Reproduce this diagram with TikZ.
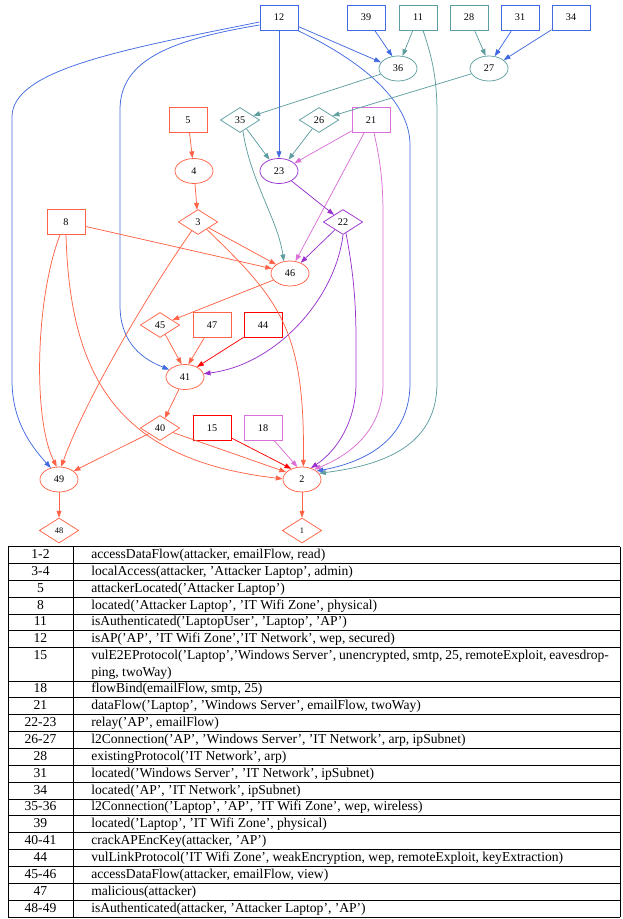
\documentclass[tikz,border=0pt]{standalone}
\usepackage{fontspec}
\setmainfont{Liberation Serif}
\usetikzlibrary{shapes.geometric,arrows.meta,calc}
\definecolor{tomatoc}{HTML}{FF6347}
\definecolor{royalc}{HTML}{4169E1}
\definecolor{cadetc}{HTML}{5F9EA0}
\definecolor{orchidc}{HTML}{DA70D6}
\definecolor{dorchidc}{HTML}{9932CC}
\definecolor{redc}{HTML}{FF0000}
\newcommand\tabrowx[4]{%
  \node[tcell,anchor=base] (#1a) at (40.5,{#2+12}) {#3};
  \node[tcell,anchor=base west] (#1b) at (91,{#2+12}) {#4};
  \draw[tline] (8,{#2+16.866}) -- (620,{#2+16.866});}
\begin{document}
\begin{tikzpicture}[x=0.736pt,y=-0.736pt,
  gfont/.style={font=\fontsize{7.5}{9}\selectfont},
  gbox/.style={draw,rectangle,minimum width=28pt,minimum height=18.4pt,inner sep=0pt,line width=0.55pt,gfont},
  gell/.style={draw,ellipse,minimum width=28pt,minimum height=18.4pt,inner sep=0pt,line width=0.55pt,gfont},
  gdia/.style={draw,diamond,minimum width=29pt,minimum height=18.4pt,inner sep=0pt,line width=0.55pt,gfont},
  sdia/.style={gdia,font=\fontsize{6.2}{7}\selectfont},
  edg/.style={line width=0.55pt,-{Triangle[length=5pt,width=3.6pt]}},
  tcell/.style={inner sep=0pt,font=\fontsize{10}{12}\selectfont},
  tline/.style={line width=0.5pt,black}]
\useasboundingbox (0,0) rectangle (623,919);
% ---- nodes ----
\node[gbox,royalc] (n12) at (279,17.5) {\color{black}12};
\node[gbox,royalc] (n39) at (366,17.5) {\color{black}39};
\node[gbox,cadetc] (n11) at (418,17.5) {\color{black}11};
\node[gbox,cadetc] (n28) at (469,17.5) {\color{black}28};
\node[gbox,royalc] (n31) at (520,17.5) {\color{black}31};
\node[gbox,royalc] (n34) at (571,17.5) {\color{black}34};
\node[gell,cadetc] (n36) at (398,68.5) {\color{black}36};
\node[gell,cadetc] (n27) at (489,68.5) {\color{black}27};
\node[gbox,tomatoc] (n5) at (188,120) {\color{black}5};
\node[gdia,cadetc] (n35) at (240,120) {\color{black}35};
\node[gdia,cadetc] (n26) at (319,120) {\color{black}26};
\node[gbox,orchidc] (n21) at (371,120) {\color{black}21};
\node[gell,tomatoc] (n4) at (194,171) {\color{black}4};
\node[gell,dorchidc] (n23) at (279,171) {\color{black}23};
\node[gbox,tomatoc] (n8) at (66,222) {\color{black}8};
\node[gdia,tomatoc] (n3) at (198,222) {\color{black}3};
\node[gdia,dorchidc] (n22) at (343,222) {\color{black}22};
\node[gell,tomatoc] (n46) at (290,273.5) {\color{black}46};
\node[gdia,tomatoc] (n45) at (160,325) {\color{black}45};
\node[gbox,tomatoc] (n47) at (212,325) {\color{black}47};
\node[gbox,redc] (n44) at (263,325) {\color{black}44};
\node[gell,tomatoc] (n41) at (185,377) {\color{black}41};
\node[gdia,tomatoc] (n40) at (160,428) {\color{black}40};
\node[gbox,redc] (n15) at (212,428) {\color{black}15};
\node[gbox,orchidc] (n18) at (263,428) {\color{black}18};
\node[gell,tomatoc] (n49) at (59,479.5) {\color{black}49};
\node[gell,tomatoc] (n2) at (302,479.5) {\color{black}2};
\node[sdia,tomatoc] (n48) at (59,530.5) {\color{black}48};
\node[sdia,tomatoc] (n1) at (302,530.5) {\color{black}1};
% ---- royal blue edges ----
\begin{scope}[royalc]
\draw[edg] (n12.193) .. controls (120,50) and (12,70) .. (12,117) -- (12,380) .. controls (12,420) and (30,445) .. (n49.125);
\draw[edg] (n12.201) .. controls (170,40) and (120,60) .. (120,110) -- (120,305) .. controls (120,345) and (145,360) .. (n41.155);
\draw[edg] (n12.south) -- (n23.north);
\draw[edg] (n12.335) -- (n36.160);
\draw[edg] (n12.325) .. controls (360,60) and (410,100) .. (410,145) -- (410,383) .. controls (410,440) and (365,462) .. (n2.30);
\draw[edg] (n39) -- (n36.115);
\draw[edg] (n31) -- (n27.65);
\draw[edg] (n34) -- (n27.30);
\end{scope}
% ---- cadet blue edges ----
\begin{scope}[cadetc]
\draw[edg] (n11) -- (n36.70);
\draw[edg] ($(n11.south)+(5,0)$) .. controls (433,60) and (437,80) .. (437,115) -- (437,383) .. controls (437,445) and (385,465) .. (n2.20);
\draw[edg] (n28) -- (n27.105);
\draw[edg] (n36) -- (n35);
\draw[edg] (n27) -- (n26);
\draw[edg] (n35) -- (n23.130);
\draw[edg] (n35.-75) .. controls (250,180) and (278,220) .. (n46.117);
\draw[edg] (n26) -- (n23.50);
\end{scope}
% ---- orchid edges ----
\begin{scope}[orchidc]
\draw[edg] (n21) -- (n23.27);
\draw[edg] (n21) -- (n46.66);
\draw[edg] ($(n21.south)+(3,0)$) .. controls (380,160) and (383,180) .. (383,215) -- (383,383) .. controls (383,430) and (350,455) .. (n2.40);
\draw[edg] (n18) -- (n2.110);
\end{scope}
% ---- dark orchid edges ----
\begin{scope}[dorchidc]
\draw[edg] (n23) -- (n22);
\draw[edg] (n22) -- (n46.45);
\draw[edg] (n22.south) .. controls (335,300) and (275,365) .. (n41.10);
\draw[edg] (n22.-75) .. controls (353,270) and (356,300) .. (356,340) -- (356,383) .. controls (356,420) and (338,450) .. (n2.52);
\end{scope}
% ---- tomato edges ----
\begin{scope}[tomatoc]
\draw[edg] (n5) -- (n4);
\draw[edg] (n4) -- (n3);
\draw[edg] (n3) -- (n46.147);
\draw[edg] (n3.-125) .. controls (150,290) and (85,400) .. (n49.80);
\draw[edg] (n3.-40) .. controls (280,300) and (305,330) .. (n2.84);
\draw[edg] (n8) -- (n46.165);
\draw[edg] ($(n8.south)+(-6,0)$) .. controls (35,300) and (33,420) .. (n49.100);
\draw[edg] (n8.south) .. controls (70,380) and (120,460) .. (n2.178);
\draw[edg] (n46) -- (n45);
\draw[edg] (n45) -- (n41.105);
\draw[edg] (n47) -- (n41.75);
\draw[edg] (n41) -- (n40);
\draw[edg] (n40) -- (n49.30);
\draw[edg] (n40) -- (n2.155);
\draw[edg] (n49) -- (n48);
\draw[edg] (n2) -- (n1);
\end{scope}
% ---- red edges ----
\begin{scope}[redc]
\draw[edg] (n44) -- (n41.40);
\draw[edg] (n15) -- (n2.135);
\end{scope}
% ---- table ----
\draw[tline] (8,546.5) -- (620,546.5);
\draw[tline] (8,546.5) -- (8,917) (73,546.5) -- (73,917) (620,546.5) -- (620,917);
\tabrowx{ta}{546.5}{1-2}{accessDataFlow(attacker, emailFlow, read)}
\tabrowx{tb}{563.37}{3-4}{localAccess(attacker, 'Attacker Laptop', admin)}
\tabrowx{tc}{580.23}{5}{attackerLocated('Attacker Laptop')}
\tabrowx{td}{597.10}{8}{located('Attacker Laptop', 'IT Wifi Zone', physical)}
\tabrowx{te}{613.96}{11}{isAuthenticated('LaptopUser', 'Laptop', 'AP')}
\tabrowx{tf}{630.83}{12}{isAP('AP', 'IT Wifi Zone','IT Network', wep, secured)}
\node[tcell,anchor=base] (tga) at (40.5,659.7) {15};
\node[tcell,anchor=base west] (tgb) at (91,659.7) {\makebox[381pt][s]{vulE2EProtocol('Laptop','Windows Server', unencrypted, smtp, 25, remoteExploit, eavesdrop-}};
\node[tcell,anchor=base west] (tgc) at (91,676) {ping, twoWay)};
\draw[tline] (8,680.89) -- (620,680.89);
\tabrowx{th}{680.89}{18}{flowBind(emailFlow, smtp, 25)}
\tabrowx{ti}{697.76}{21}{dataFlow('Laptop', 'Windows Server', emailFlow, twoWay)}
\tabrowx{tj}{714.62}{22-23}{relay('AP', emailFlow)}
\tabrowx{tk}{731.49}{26-27}{l2Connection('AP', 'Windows Server', 'IT Network', arp, ipSubnet)}
\tabrowx{tl}{748.36}{28}{existingProtocol('IT Network', arp)}
\tabrowx{tm}{765.22}{31}{located('Windows Server', 'IT Network', ipSubnet)}
\tabrowx{tn}{782.09}{34}{located('AP', 'IT Network', ipSubnet)}
\tabrowx{to}{798.95}{35-36}{l2Connection('Laptop', 'AP', 'IT Wifi Zone', wep, wireless)}
\tabrowx{tp}{815.82}{39}{located('Laptop', 'IT Wifi Zone', physical)}
\tabrowx{tq}{832.68}{40-41}{crackAPEncKey(attacker, 'AP')}
\tabrowx{tr}{849.55}{44}{vulLinkProtocol('IT Wifi Zone', weakEncryption, wep, remoteExploit, keyExtraction)}
\tabrowx{ts}{866.42}{45-46}{accessDataFlow(attacker, emailFlow, view)}
\tabrowx{tt}{883.28}{47}{malicious(attacker)}
\tabrowx{tu}{900.15}{48-49}{isAuthenticated(attacker, 'Attacker Laptop', 'AP')}
\end{tikzpicture}
\end{document}
